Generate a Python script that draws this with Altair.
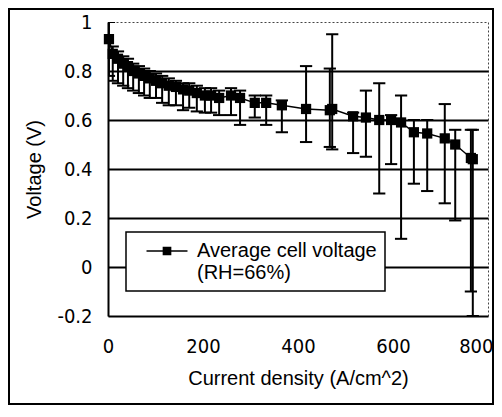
import altair as alt
import pandas as pd

# Data
current = [2, 10, 21, 32, 42, 53, 65, 76, 88, 101, 114, 128, 143, 158, 171, 187, 204, 217, 234,
           259, 278, 309, 333, 366, 417, 467, 472, 516, 543, 571, 596, 617, 644, 672, 709, 731, 764, 768]
voltage = [0.93, 0.87, 0.85, 0.83, 0.82, 0.80, 0.79, 0.78, 0.77, 0.76, 0.75, 0.74, 0.735, 0.725, 0.72,
           0.71, 0.70, 0.70, 0.69, 0.70, 0.69, 0.67, 0.67, 0.66, 0.645, 0.64, 0.645, 0.615, 0.61, 0.60,
           0.60, 0.59, 0.55, 0.545, 0.525, 0.50, 0.445, 0.44]
err_low = [0.78, 0.76, 0.75, 0.74, 0.73, 0.72, 0.71, 0.70, 0.69, 0.69, 0.67, 0.66, 0.66, 0.64, 0.65,
           0.635, 0.63, 0.63, 0.62, 0.62, 0.58, 0.61, 0.58, 0.55, 0.51, 0.49, 0.48, 0.465, 0.45, 0.30,
           0.42, 0.115, 0.34, 0.31, 0.26, 0.19, -0.1, -0.2]
err_high = [1.0, 0.90, 0.88, 0.86, 0.85, 0.83, 0.82, 0.81, 0.80, 0.79, 0.78, 0.77, 0.76, 0.75, 0.75,
            0.74, 0.73, 0.73, 0.72, 0.73, 0.72, 0.70, 0.70, 0.68, 0.82, 0.81, 0.95, 0.63, 0.72, 0.75,
            0.62, 0.70, 0.60, 0.60, 0.665, 0.56, 0.56, 0.56]
series_name = "Average cell voltage"
x_ticks = [0, 200, 400, 600, 800]
y_ticks = [-0.2, 0, 0.2, 0.4, 0.6, 0.8, 1.0]

df = pd.DataFrame({"current": current, "voltage": voltage, "lo": err_low, "hi": err_high,
                   "series": [series_name] * len(current)})

NARROW = "Liberation Sans Narrow, DejaVu Sans Condensed, Liberation Sans, sans-serif"
SANS = "Liberation Sans, Arial, sans-serif"

xenc = alt.X("current:Q", scale=alt.Scale(domain=[0, 800], nice=False),
             axis=alt.Axis(values=x_ticks, title="Current density (A/cm^2)", grid=False,
                           ticks=False, labelPadding=20, titlePadding=12,
                           labelFont=NARROW, labelFontSize=20, labelColor="black",
                           labelAlign={"condition": {"test": "datum.value >= 800", "value": "right"},
                                       "value": "center"},
                           labelOffset={"condition": {"test": "datum.value >= 800", "value": 5},
                                        "value": 0},
                           titleFont=SANS, titleFontSize=20, titleFontWeight="normal",
                           titleColor="black", domainColor="black", domainWidth=2,
                           labelFlush=False))
yscale = alt.Scale(domain=[-0.2, 1.0], nice=False)
yaxis = alt.Axis(values=y_ticks, title="Voltage (V)", ticks=False, labelPadding=16,
                 labelExpr="toString(round(datum.value*10)/10)",
                 labelFont=NARROW, labelFontSize=20, labelColor="black",
                 titleFont=SANS, titleFontSize=20, titleFontWeight="normal", titleColor="black",
                 titlePadding=12, domainColor="black", domainWidth=2,
                 grid=True, gridColor="black", gridWidth=1.8,
                 gridOpacity={"condition": {"test": "datum.value > 0.9 || datum.value < -0.1",
                                            "value": 0}, "value": 1})

rules = alt.Chart(df).mark_rule(color="black", strokeWidth=2).encode(
    x=xenc, y=alt.Y("lo:Q", scale=yscale, axis=yaxis), y2="hi:Q")

caps = alt.Chart(df).transform_fold(["lo", "hi"], as_=["which", "cap"]).mark_point(
    shape="stroke", size=150, strokeWidth=2, color="black", opacity=1, clip=True).encode(
    x="current:Q", y="cap:Q")

line = alt.Chart(df).mark_line(color="black", strokeWidth=1.5).encode(
    x="current:Q", y="voltage:Q")

points = alt.Chart(df).mark_point(shape="square", filled=True, size=105, opacity=1).encode(
    x="current:Q", y="voltage:Q",
    color=alt.Color("series:N", scale=alt.Scale(range=["black"]),
                    legend=alt.Legend(
                        title=None, orient="none", legendX=18, legendY=210,
                        strokeColor="black", fillColor="white",
                        padding=8, symbolOffset=22, labelOffset=19,
                        symbolType="M-2,0H2M-0.35,-0.35H0.35V0.35H-0.35Z",
                        symbolSize=420, symbolStrokeColor="black", symbolFillColor="black",
                        symbolStrokeWidth=1.5,
                        labelFont=SANS, labelFontSize=20, labelColor="black", labelLimit=0,
                        labelExpr="['Average cell voltage', '(RH=66%)']",
                        labelBaseline="middle")))

frame = alt.Chart(alt.Data(values=[{"a": 1}])).mark_rect(
    fill="transparent", stroke="black", strokeWidth=2).encode(
    x=alt.value(-99), x2=alt.value(385), y=alt.value(-13), y2=alt.value(382))

chart = alt.layer(frame, rules, caps, line, points).properties(
    width=380, height=294,
    autosize=alt.AutoSizeParams(type="none"),
    padding={"left": 100, "top": 14, "right": 6, "bottom": 90},
    background="white",
).configure_view(stroke="#444", strokeDash=[2, 2], strokeWidth=1
).configure_legend(strokeWidth=1.5)

chart.save("out.html", embed_options={"renderer": "svg", "actions": False})
